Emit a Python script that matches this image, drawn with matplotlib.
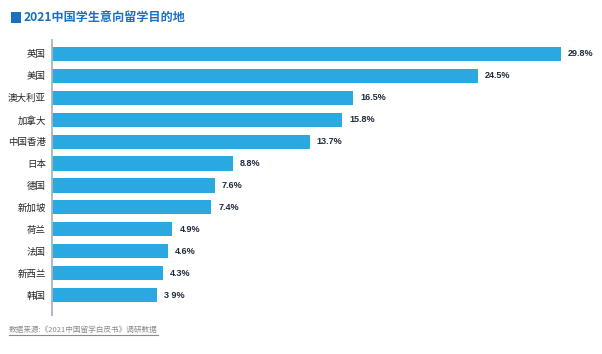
import matplotlib
matplotlib.use("Agg")
import matplotlib.pyplot as plt
from matplotlib.lines import Line2D
from matplotlib.patches import Rectangle

plt.rcParams["font.family"] = ["Noto Sans CJK SC", "DejaVu Sans"]

countries = ["英国", "美国", "澳大利亚", "加拿大", "中国香港", "日本",
             "德国", "新加坡", "荷兰", "法国", "新西兰", "韩国"]
shares = [29.8, 24.5, 16.5, 15.8, 13.7, 8.8, 7.6, 7.4, 4.9, 4.6, 4.3, 3.9]
value_labels = ["29.8%", "24.5%", "16.5%", "15.8%", "13.7%", "8.8%",
                "7.6%", "7.4%", "4.9%", "4.6%", "4.3%", "3 9%"]

title = "2021中国学生意向留学目的地"
source = "数据来源:《2021中国留学白皮书》调研数据"

BAR = "#2aa9e0"
BLUE = "#1a6fc1"
BASE = -2.82   # axis does not start at zero in the original

W, H = 602, 354
fig = plt.figure(figsize=(W / 100, H / 100), dpi=100)
ax = fig.add_axes([52 / W, 1 - 315 / H, (590 - 52) / W, (315 - 40) / H])

y = list(range(len(countries)))
ax.barh(y, [v - BASE for v in shares], left=BASE, height=0.64,
        color=BAR, linewidth=0)

for yi, v, lab in zip(y, shares, value_labels):
    ax.annotate(lab, (v, yi), xytext=(5, 0), textcoords="offset points",
                va="center", ha="left", fontsize=6.5, fontweight="bold",
                family=["Liberation Sans", "DejaVu Sans"], color="#1f2a3c")

ax.set_xlim(BASE, 31.67)
ax.set_ylim(11.897, -0.624)
ax.set_yticks(y)
ax.set_yticklabels(countries, fontsize=6.8, color="#262626")
ax.tick_params(axis="y", length=0, pad=4.3)
ax.set_xticks([])
for s in ["top", "right", "bottom"]:
    ax.spines[s].set_visible(False)
ax.spines["left"].set_color("#a9b3c6")
ax.spines["left"].set_linewidth(1.3)

# title with blue square marker
fig.add_artist(Rectangle((11 / W, 1 - 23 / H), 10 / W, 11 / H,
                         transform=fig.transFigure, color=BLUE, lw=0))
fig.text(24 / W, 1 - 17.5 / H, title, fontsize=8.7, fontweight="bold",
         color=BLUE, va="center", ha="left")

# source note, underlined
fig.text(9 / W, 1 - 330 / H, source, fontsize=5.5, color="#8a8a8a",
         va="center", ha="left", style="italic")
fig.add_artist(Line2D([9 / W, 158 / W], [1 - 334.5 / H, 1 - 334.5 / H],
                      transform=fig.transFigure, color="#8a8a8a", lw=0.8))

fig.savefig("out.png", dpi=100)
